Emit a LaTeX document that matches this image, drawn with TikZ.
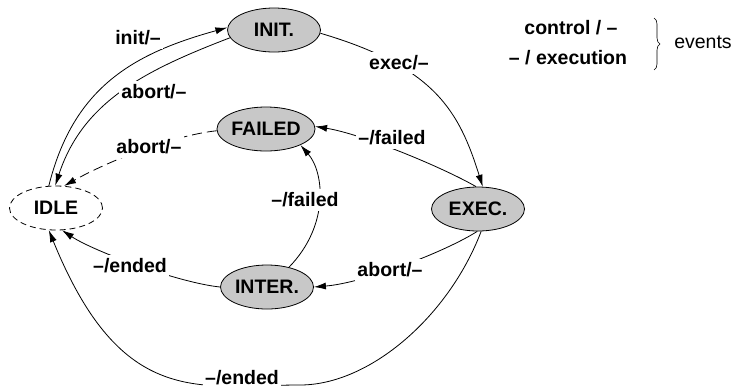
\documentclass[tikz,border=0pt]{standalone}
\usepackage{fontspec}
\setmainfont{Liberation Sans}
\usetikzlibrary{shapes.geometric,arrows.meta,decorations.pathreplacing}
\definecolor{stategray}{RGB}{200,200,200}
\tikzset{
  state/.style={ellipse, draw, line width=0.8pt, fill=stategray, minimum width=93pt, minimum height=44pt, inner sep=0pt, font=\fontsize{19.5}{23}\selectfont\bfseries},
  idlestate/.style={state, fill=white, dash pattern=on 6pt off 4pt},
  lab/.style={fill=white, inner xsep=2pt, inner ysep=4pt, font=\fontsize{19.5}{23}\selectfont\bfseries},
  plain/.style={inner sep=1pt, font=\fontsize{19.5}{23}\selectfont},
  conn/.style={line width=0.8pt, -{Latex[length=12pt,width=7pt]}},
  dconn/.style={conn, dash pattern=on 10pt off 5pt},
}
\begin{document}
\begin{tikzpicture}[x=1pt,y=-1pt]
\useasboundingbox (0,0) rectangle (738,389);
% states
\node[state] (init) at (274,30) {INIT.};
\node[state] (failed) at (266,129) {FAILED};
\node[idlestate] (idle) at (56,208) {IDLE};
\node[state] (exec) at (478,209) {EXEC.};
\node[state] (inter) at (267,287) {INTER.};
% connectors
\draw[conn] (idle.108) .. controls (73,89) and (131,54) .. (init.177);
\draw[conn] (init.190) .. controls (146,70) and (83,101) .. (idle.92);
\draw[dconn] (failed.182) .. controls (170,136) and (107,162) .. (idle.70);
\draw[conn] (init.356) .. controls (435,67) and (459,111) .. (exec.78);
\draw[conn] (exec.95) .. controls (442,167) and (362,134) .. (failed.3);
\draw[conn] (inter.42) .. controls (330,225) and (324,172) .. (failed.-25);
\draw[conn] (exec.268) .. controls (443,253) and (363,283) .. (inter.0);
\draw[conn] (inter.180) .. controls (180,283) and (95,252) .. (idle.285);
\coordinate (low) at (300,385);
\draw[conn] (exec.278) .. controls (449,316) and (370,385) .. (low)
   .. controls (200,385) and (122,410) .. (idle.252);
% labels
\node[lab] (l1) at (138,38) {init/–};
\node[lab] (l2) at (154,92) {abort/–};
\node[lab] (l3) at (149,147) {abort/–};
\node[lab] (l4) at (399,63) {exec/–};
\node[lab] (l5) at (392,138) {–/failed};
\node[lab] (l6) at (305,200) {–/failed};
\node[lab] (l7) at (390,270) {abort/–};
\node[lab] (l8) at (130,266) {–/ended};
\node[lab] (l9) at (242,378) {–/ended};
% legend
\node[lab] (lc) at (571,28) {control / –};
\node[lab] (le) at (568,58) {– / execution};
\coordinate (bt) at (654,18);
\coordinate (bb) at (654,70);
\draw[line width=0.6pt, decorate, decoration={brace, amplitude=6pt}] (bt) -- (bb);
\node[plain] (ev) at (703,42) {events};
\end{tikzpicture}
\end{document}
